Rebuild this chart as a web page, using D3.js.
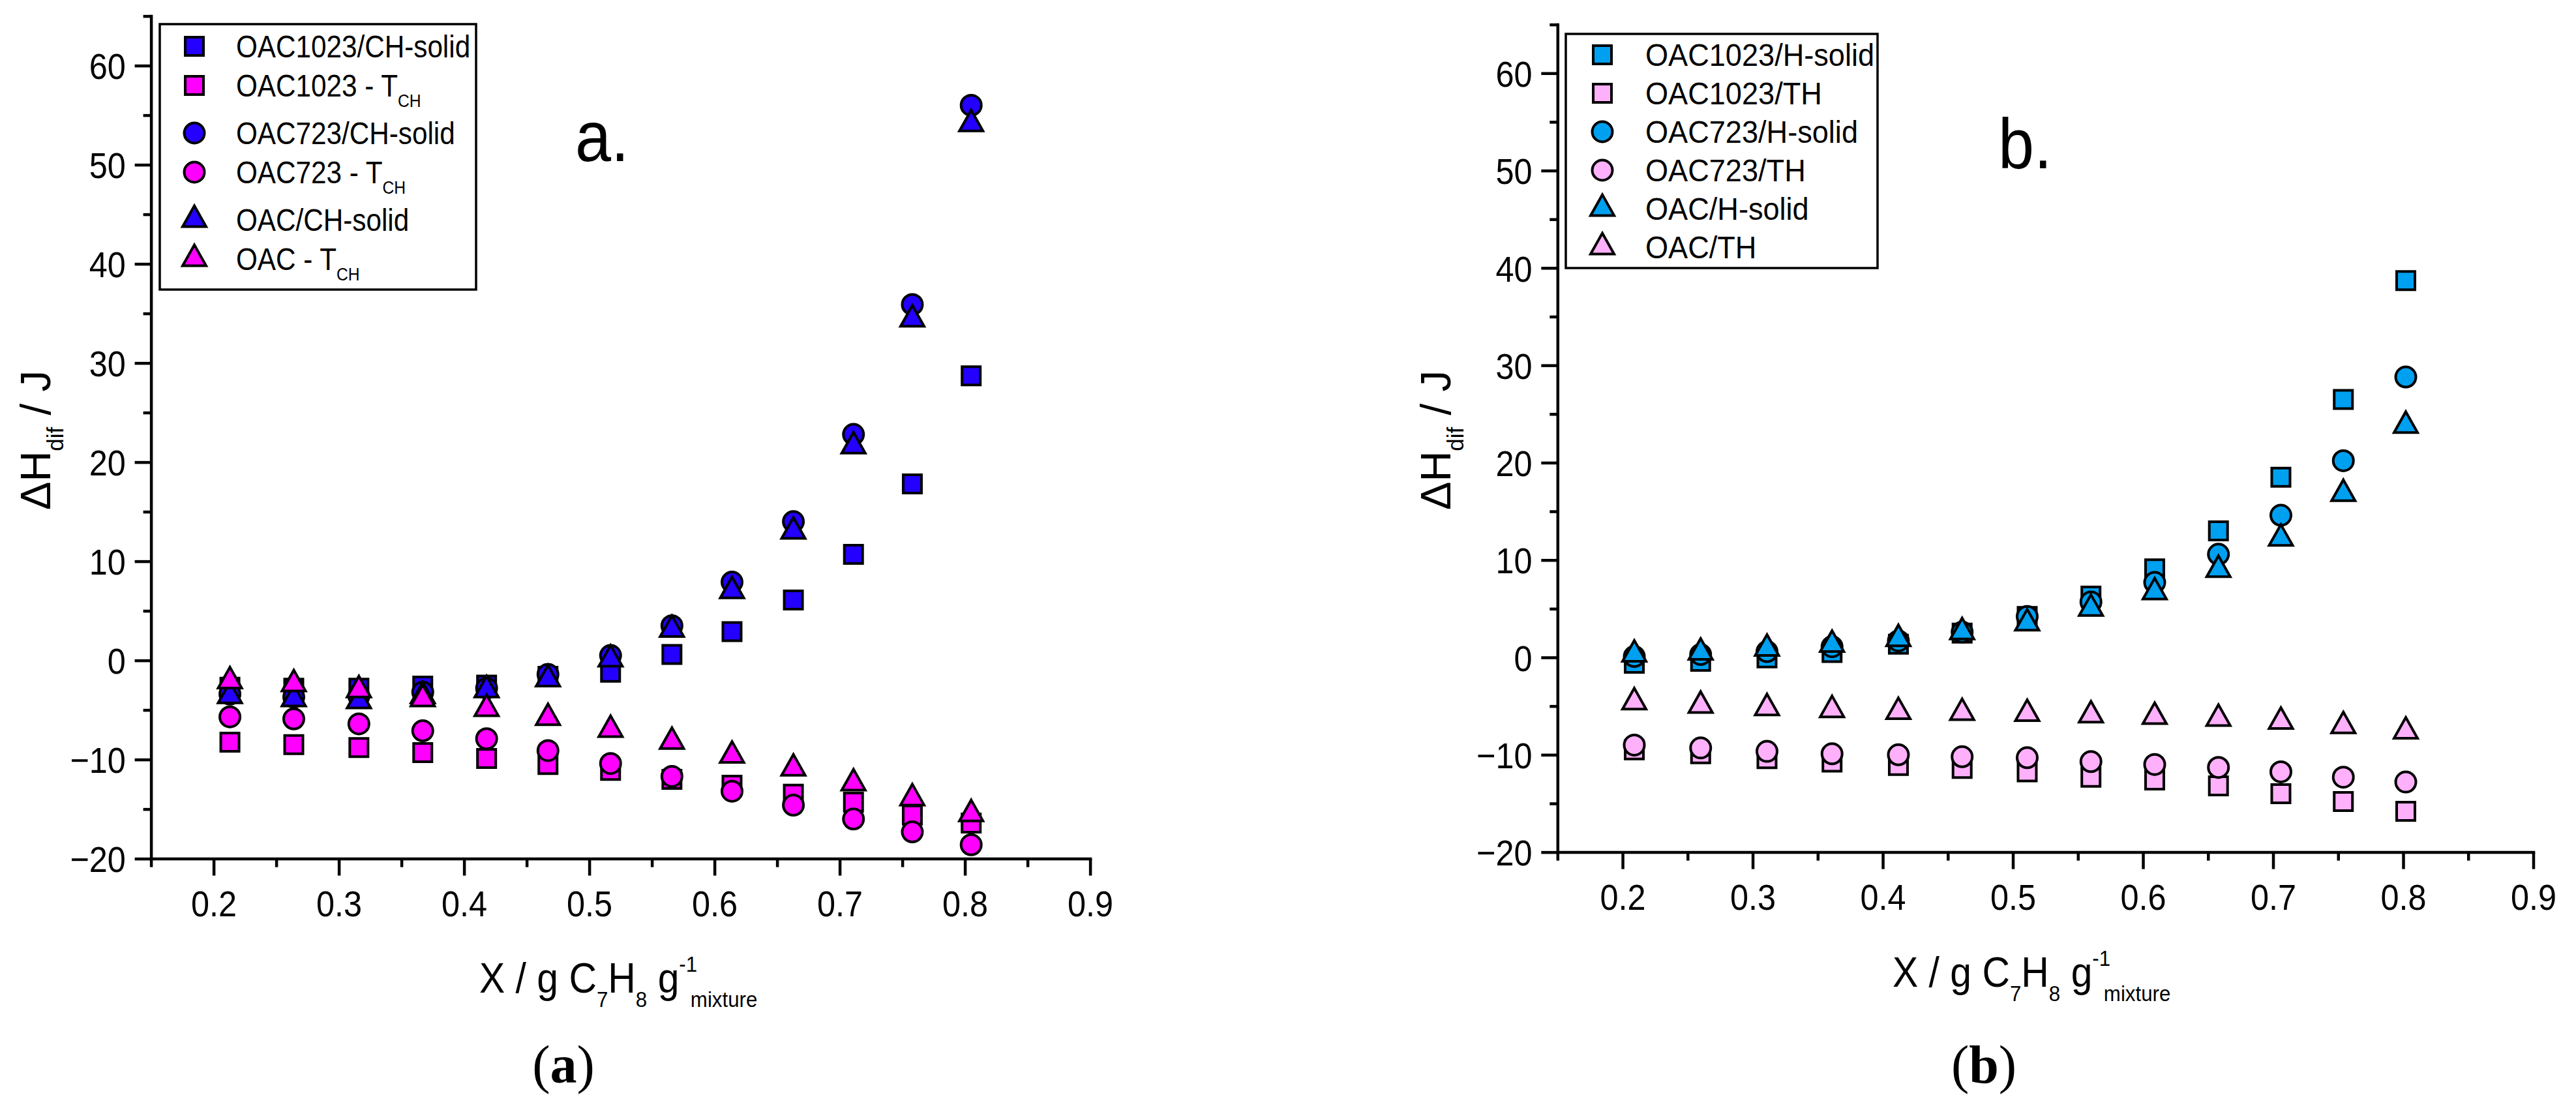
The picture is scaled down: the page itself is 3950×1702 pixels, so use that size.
<!DOCTYPE html>
<html>
<head>
<meta charset="utf-8">
<script src="https://cdn.jsdelivr.net/npm/d3@7"></script>
<style>
  body { margin: 0; background: #fff; }
  svg { display: block; }
</style>
</head>
<body>
<div id="chart"></div>
<script>
'use strict';

// ---- data ----
const xTicks = [0.2, 0.3, 0.4, 0.5, 0.6, 0.7, 0.8, 0.9];
const xMinorTicks = [0.15, 0.25, 0.35, 0.45, 0.55, 0.65, 0.75, 0.85];
const yTicks = [-20, -10, 0, 10, 20, 30, 40, 50, 60];
const yMinorTicks = [-15, -5, 5, 15, 25, 35, 45, 55, 65];

// panel a: toluene mass fraction
const xA = [0.213, 0.264, 0.316, 0.367, 0.418, 0.467, 0.517, 0.566, 0.614, 0.663, 0.711, 0.758, 0.805];
const oac1023ChSolid = [-2.7, -2.8, -2.8, -2.6, -2.5, -1.6, -1.2, 0.6, 2.9, 6.1, 10.7, 17.8, 28.7];
const oac1023Tch = [-8.25, -8.5, -8.8, -9.3, -9.9, -10.5, -11.1, -12.0, -12.6, -13.5, -14.3, -15.6, -16.4];
const oac723ChSolid = [-3.4, -3.7, -3.6, -3.2, -2.8, -1.4, 0.5, 3.5, 7.9, 14.0, 22.8, 35.9, 56.0];
const oac723Tch = [-5.7, -5.9, -6.4, -7.1, -7.9, -9.1, -10.4, -11.7, -13.2, -14.6, -16.0, -17.3, -18.6];
const oacChSolid = [-3.6, -3.9, -4.1, -3.6, -3.0, -1.9, 0.1, 3.1, 7.0, 13.0, 21.6, 34.4, 54.1];
const oacTch = [-2.1, -2.4, -3.0, -3.9, -4.9, -5.8, -7.0, -8.2, -9.6, -10.9, -12.4, -13.9, -15.5];

// panel b
const xB = [0.209, 0.260, 0.311, 0.361, 0.412, 0.461, 0.511, 0.560, 0.609, 0.658, 0.706, 0.754, 0.802];
const oac1023HSolid = [-0.6, -0.4, -0.05, 0.5, 1.35, 2.5, 4.2, 6.3, 9.1, 13.0, 18.5, 26.5, 38.7];
const oac1023Th = [-9.5, -9.9, -10.4, -10.75, -11.1, -11.4, -11.75, -12.3, -12.6, -13.2, -14.0, -14.8, -15.8];
const oac723HSolid = [0.1, 0.3, 0.6, 1.1, 1.7, 2.6, 4.2, 5.7, 7.7, 10.6, 14.6, 20.2, 28.8];
const oac723Th = [-9.0, -9.3, -9.65, -9.9, -10.0, -10.2, -10.3, -10.7, -11.0, -11.3, -11.75, -12.3, -12.8];
const oacHSolid = [0.3, 0.5, 0.9, 1.3, 1.9, 2.6, 3.5, 5.0, 6.7, 9.0, 12.2, 16.8, 23.8];
const oacTh = [-4.6, -4.95, -5.2, -5.4, -5.6, -5.7, -5.8, -5.95, -6.1, -6.3, -6.6, -7.05, -7.6];

// legend labels: [main text, subscript]
const legendA = [["OAC1023/CH-solid", ""], ["OAC1023 - T", "CH"], ["OAC723/CH-solid", ""],
                 ["OAC723 - T", "CH"], ["OAC/CH-solid", ""], ["OAC - T", "CH"]];
const legendB = [["OAC1023/H-solid", ""], ["OAC1023/TH", ""], ["OAC723/H-solid", ""],
                 ["OAC723/TH", ""], ["OAC/H-solid", ""], ["OAC/TH", ""]];

const SANS = "'Liberation Sans', Arial, sans-serif";
const SERIF = "'Liberation Serif', 'Times New Roman', serif";

const blueA = "#2300ff", magentaA = "#ff00ff";
const blueB = "#00a0f0", pinkB = "#ffb0fa";

// marker shapes, centred on the data point
const markerPath = (shape) => {
    if (shape === "square") return "M-14,-14h28v28h-28z";
    if (shape === "circle") return d3.symbol(d3.symbolCircle, Math.PI * 15.5 * 15.5)();
    return "M0,-21.5L18,10.5L-18,10.5Z";
};

const svg = d3.select("#chart").append("svg")
    .attr("width", 3950)
    .attr("height", 1702);

svg.append("rect").attr("width", 3950).attr("height", 1702).attr("fill", "#fff");

// text group with the slightly narrow look of the original
const scaledText = (parent, x, y, sx) => parent.append("g")
    .attr("transform", `translate(${x},${y}) scale(${sx},1)`)
    .append("text")
    .attr("font-family", SANS)
    .attr("fill", "#000");

const drawPanel = (cfg) => {
    const x = d3.scaleLinear().domain([0.15, 0.9]).range(cfg.xRange);
    const y = d3.scaleLinear().domain([-20, 65]).range(cfg.yRange);
    const g = svg.append("g");

    const styleAxis = (sel) => {
        sel.selectAll("path, line").attr("stroke", "#000").attr("stroke-width", 4.5);
        sel.select(".domain").attr("stroke-linecap", "square");
    };

    // x axis, minor then major
    g.append("g")
        .attr("transform", `translate(0,${y(-20)})`)
        .call(d3.axisBottom(x).tickValues(xMinorTicks).tickSize(13).tickFormat(""))
        .call(a => a.select(".domain").remove())
        .call(styleAxis);

    g.append("g")
        .attr("transform", `translate(0,${y(-20)})`)
        .call(d3.axisBottom(x).tickValues(xTicks).tickSize(26).tickSizeOuter(0).tickFormat(d3.format(".1f")))
        .call(styleAxis)
        .call(a => a.selectAll("text")
            .attr("y", 88).attr("dy", 0)
            .attr("font-size", 56).attr("font-family", SANS)
            .attr("transform", "scale(0.9,1)"));

    // y axis, minor then major
    g.append("g")
        .attr("transform", `translate(${x(0.15)},0)`)
        .call(d3.axisLeft(y).tickValues(yMinorTicks).tickSize(12).tickFormat(""))
        .call(a => a.select(".domain").remove())
        .call(styleAxis);

    g.append("g")
        .attr("transform", `translate(${x(0.15)},0)`)
        .call(d3.axisLeft(y).tickValues(yTicks).tickSize(25).tickSizeOuter(0).tickFormat(d3.format("d")))
        .call(styleAxis)
        .call(a => a.selectAll("text")
            .attr("x", -43).attr("dy", "0.36em")
            .attr("font-size", 56).attr("font-family", SANS)
            .attr("transform", "scale(0.9,1)"));

    // y axis title
    const yt = g.append("text")
        .attr("transform", `translate(${cfg.yTitle[0]},${cfg.yTitle[1]}) rotate(-90)`)
        .attr("text-anchor", "middle")
        .attr("font-family", SANS)
        .attr("font-size", 65);
    yt.append("tspan").text("\u0394H");
    yt.append("tspan").attr("font-size", 35).attr("dy", 20).text("dif");
    yt.append("tspan").attr("dy", -20).text(" / J");

    // x axis title
    const xt = scaledText(g, cfg.xTitle[0], cfg.xTitle[1], 0.92).attr("font-size", 64);
    xt.append("tspan").text("X / g C");
    xt.append("tspan").attr("font-size", 34).attr("dy", 22).text("7");
    xt.append("tspan").attr("dy", -22).text("H");
    xt.append("tspan").attr("font-size", 34).attr("dy", 22).text("8");
    xt.append("tspan").attr("dy", -22).text(" g");
    const sup = xt.append("tspan").attr("font-size", 34).attr("dy", -32).text("-1");
    const supX = sup.node().getStartPositionOfChar(0).x;
    d3.select(xt.node().parentNode).append("text")
        .attr("x", supX + 19).attr("y", 22)
        .attr("font-family", SANS).attr("font-size", 34)
        .text("mixture");

    // panel letter inside plot
    scaledText(g, cfg.tag[0], cfg.tag[1], 0.9).attr("font-size", 110).text(cfg.tagText);

    // caption below
    const cap = g.append("text")
        .attr("x", cfg.caption[0]).attr("y", cfg.caption[1])
        .attr("text-anchor", "middle")
        .attr("font-family", SERIF)
        .attr("font-size", 82);
    cap.append("tspan").text("(");
    cap.append("tspan").attr("font-weight", "bold").text(cfg.captionText);
    cap.append("tspan").text(")");

    // markers, drawn in legend order
    cfg.series.forEach(s => {
        g.append("g").selectAll("path")
            .data(d3.zip(cfg.xs, s.values))
            .join("path")
            .attr("transform", d => `translate(${x(d[0])},${y(d[1])})`)
            .attr("d", markerPath(s.shape))
            .attr("fill", s.color)
            .attr("stroke", "#000")
            .attr("stroke-width", 4);
    });

    // legend
    const lg = cfg.legend;
    g.append("rect")
        .attr("x", lg.box[0]).attr("y", lg.box[1])
        .attr("width", lg.box[2] - lg.box[0]).attr("height", lg.box[3] - lg.box[1])
        .attr("fill", "#fff").attr("stroke", "#000").attr("stroke-width", 3.5);

    let base = lg.firstBaseline;
    cfg.series.forEach((s, i) => {
        const [label, sub] = lg.labels[i];
        g.append("path")
            .attr("transform", `translate(${lg.symbolX},${base - 17})`)
            .attr("d", markerPath(s.shape))
            .attr("fill", s.color)
            .attr("stroke", "#000")
            .attr("stroke-width", 4);
        const t = scaledText(g, lg.textX, base, lg.textScale).attr("font-size", 48);
        t.append("tspan").text(label);
        if (sub) t.append("tspan").attr("font-size", 28).attr("dy", 16).text(sub);
        base += lg.rowGap + (sub ? lg.subExtra : 0);
    });
};

drawPanel({
    xRange: [231.6, 1671.6],
    yRange: [1316.6, 24.6],
    xs: xA,
    series: [
        { values: oac1023ChSolid, shape: "square", color: blueA },
        { values: oac1023Tch, shape: "square", color: magentaA },
        { values: oac723ChSolid, shape: "circle", color: blueA },
        { values: oac723Tch, shape: "circle", color: magentaA },
        { values: oacChSolid, shape: "triangle", color: blueA },
        { values: oacTch, shape: "triangle", color: magentaA }
    ],
    legend: {
        box: [245, 37, 730, 444],
        labels: legendA,
        symbolX: 298, textX: 362,
        firstBaseline: 88, rowGap: 60, subExtra: 13,
        textScale: 0.88
    },
    yTitle: [77, 675],
    xTitle: [735, 1522],
    tag: [882, 247], tagText: "a.",
    caption: [864, 1660], captionText: "a"
});

drawPanel({
    xRange: [2388.3, 3884.5],
    yRange: [1306.6, 37.6],
    xs: xB,
    series: [
        { values: oac1023HSolid, shape: "square", color: blueB },
        { values: oac1023Th, shape: "square", color: pinkB },
        { values: oac723HSolid, shape: "circle", color: blueB },
        { values: oac723Th, shape: "circle", color: pinkB },
        { values: oacHSolid, shape: "triangle", color: blueB },
        { values: oacTh, shape: "triangle", color: pinkB }
    ],
    legend: {
        box: [2401, 52, 2879, 411],
        labels: legendB,
        symbolX: 2457, textX: 2523,
        firstBaseline: 101, rowGap: 59, subExtra: 0,
        textScale: 0.94
    },
    yTitle: [2224, 675],
    xTitle: [2902, 1513],
    tag: [3064, 258], tagText: "b.",
    caption: [3042, 1660], captionText: "b"
});
</script>
</body>
</html>
